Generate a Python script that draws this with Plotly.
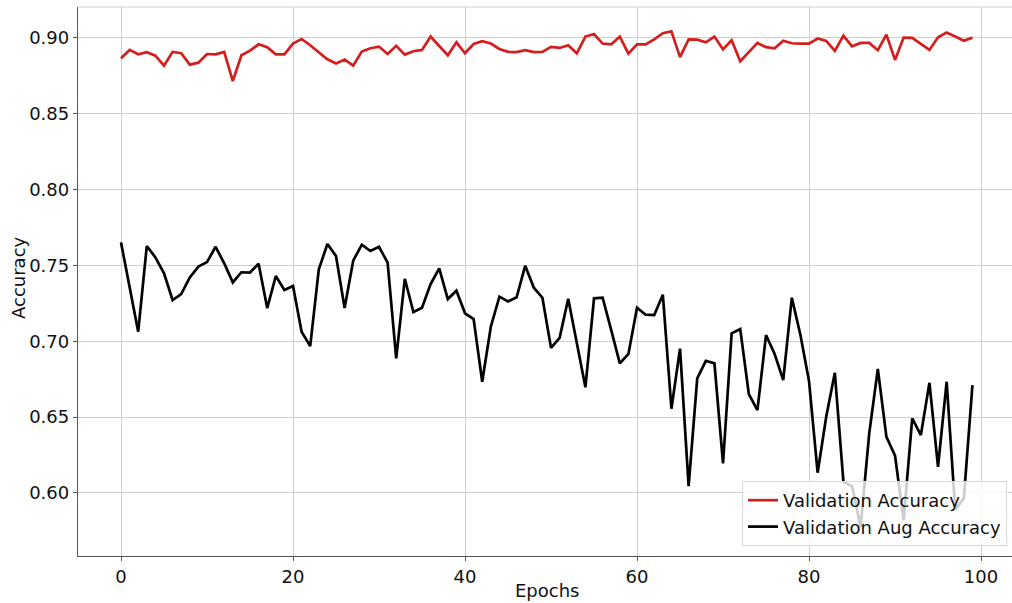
import plotly.graph_objects as go

epochs = list(range(100))

val_acc = [
    0.8866, 0.8921, 0.8892, 0.8906, 0.8883, 0.8817, 0.8908, 0.8899, 0.8824, 0.8837,
    0.8894, 0.8892, 0.8908, 0.8716, 0.8886, 0.8916, 0.8958, 0.8939, 0.8892, 0.8892,
    0.8963, 0.8993, 0.8952, 0.8906, 0.8859, 0.8831, 0.8857, 0.8817, 0.8910, 0.8932,
    0.8943, 0.8894, 0.8948, 0.8890, 0.8912, 0.8921, 0.9009, 0.8947, 0.8886, 0.8971,
    0.8899, 0.8960, 0.8978, 0.8963, 0.8927, 0.8908, 0.8906, 0.8919, 0.8906, 0.8908,
    0.8941, 0.8934, 0.8952, 0.8899, 0.9009, 0.9026, 0.8963, 0.8958, 0.9009, 0.8897,
    0.8958, 0.8958, 0.8991, 0.9031, 0.9044, 0.8873, 0.8991, 0.8989, 0.8971, 0.9009,
    0.8925, 0.8985, 0.8846, 0.8906, 0.8967, 0.8939, 0.8932, 0.8982, 0.8965, 0.8963,
    0.8963, 0.8996, 0.8980, 0.8914, 0.9015, 0.8945, 0.8967, 0.8967, 0.8919, 0.9022,
    0.8855, 0.9002, 0.9000, 0.8961, 0.8921, 0.9004, 0.9035, 0.9009, 0.8982, 0.9002,
]

val_aug_acc = [
    0.7652, 0.7357, 0.7063, 0.7628, 0.7553, 0.7448, 0.7272, 0.7311, 0.7421, 0.7492,
    0.7522, 0.7623, 0.7514, 0.7388, 0.7455, 0.7453, 0.7511, 0.7219, 0.7430, 0.7338,
    0.7364, 0.7063, 0.6968, 0.7474, 0.7641, 0.7562, 0.7219, 0.7531, 0.7637, 0.7595,
    0.7623, 0.7518, 0.6887, 0.7412, 0.7193, 0.7221, 0.7377, 0.7481, 0.7278, 0.7333,
    0.7184, 0.7146, 0.6733, 0.7096, 0.7294, 0.7263, 0.7290, 0.7498, 0.7353, 0.7287,
    0.6957, 0.7023, 0.7280, 0.6988, 0.6696, 0.7283, 0.7287, 0.7074, 0.6854, 0.6916,
    0.7221, 0.7175, 0.7173, 0.7307, 0.6555, 0.6951, 0.6045, 0.6755, 0.6871, 0.6854,
    0.6195, 0.7052, 0.7080, 0.6652, 0.6546, 0.7041, 0.6916, 0.6744, 0.7287, 0.7041,
    0.6737, 0.6133, 0.6502, 0.6792, 0.6073, 0.6045, 0.5776, 0.6393, 0.6817, 0.6370,
    0.6245, 0.5821, 0.6491, 0.6381, 0.6726, 0.6172, 0.6733, 0.5887, 0.5964, 0.6711,
]

x_ticks = [0, 20, 40, 60, 80, 100]
y_ticks = [0.60, 0.65, 0.70, 0.75, 0.80, 0.85, 0.90]
x_title = "Epochs"
y_title = "Accuracy"

FONT = "DejaVu Sans"
FS = 18
W, H = 1012, 603
ML, MR, MT, MB = 78, 0, 7, 47
PW, PH = W - ML - MR, H - MT - MB

fig = go.Figure()
fig.add_trace(go.Scatter(
    x=epochs, y=val_acc, mode="lines", name="Validation Accuracy",
    line=dict(color="#d41e1e", width=2.7),
))
fig.add_trace(go.Scatter(
    x=epochs, y=val_aug_acc, mode="lines", name="Validation Aug Accuracy",
    line=dict(color="#000000", width=2.7),
))

fig.update_layout(
    width=W, height=H,
    margin=dict(l=ML, r=MR, t=MT, b=MB, autoexpand=False),
    paper_bgcolor="white", plot_bgcolor="white",
    font=dict(family=FONT, size=FS, color="#111111"),
    showlegend=True,
    legend=dict(
        x=(1007 - ML) / PW, y=(556 - 546) / PH, xanchor="right", yanchor="bottom",
        bgcolor="rgba(255,255,255,0.8)", bordercolor="#d8d8d8", borderwidth=1,
        font=dict(family=FONT, size=FS, color="#111111"),
        tracegroupgap=0, entrywidth=250,
    ),
    shapes=[dict(type="line", xref="paper", yref="paper", x0=0, x1=1, y0=1, y1=1,
                 line=dict(color="#d0d0d0", width=1))],
    annotations=[
        dict(text=x_title, xref="paper", yref="paper", x=(547 - ML) / PW, y=-(590 - 556) / PH,
             xanchor="center", yanchor="middle", showarrow=False,
             font=dict(family=FONT, size=FS, color="#111111")),
        dict(text=y_title, xref="paper", yref="paper", x=-(ML - 18) / PW, y=(556 - 278) / PH,
             xanchor="center", yanchor="middle", showarrow=False, textangle=-90,
             font=dict(family=FONT, size=FS, color="#111111")),
    ],
)

fig.update_xaxes(
    range=[-5.0, 103.6], tickvals=x_ticks, ticktext=[str(v) for v in x_ticks],
    showgrid=True, gridcolor="#cfcfcf", gridwidth=1, zeroline=False,
    showline=True, linecolor="#555555", linewidth=1.3, automargin=False,
    ticks="outside", ticklen=4, tickcolor="#555555",
    tickfont=dict(family=FONT, size=FS),
)
fig.update_yaxes(
    range=[0.5584, 0.9204], tickvals=y_ticks, ticktext=[f"{v:.2f}" for v in y_ticks],
    showgrid=True, gridcolor="#cfcfcf", gridwidth=1, zeroline=False,
    showline=True, linecolor="#555555", linewidth=1.3, automargin=False,
    ticks="outside", ticklen=4, tickcolor="#555555",
    tickfont=dict(family=FONT, size=FS),
)

fig.write_html("out.html", config={"displayModeBar": False},
               post_script="document.body.style.margin='0px';")
